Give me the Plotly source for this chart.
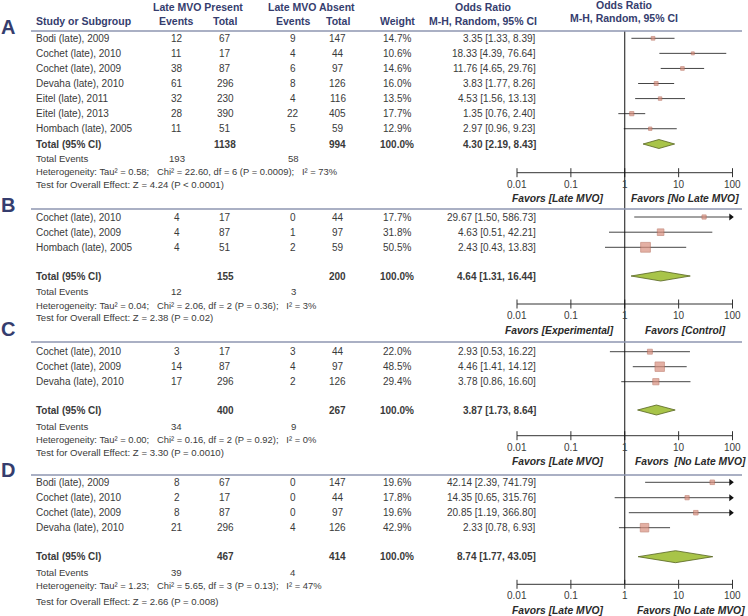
import math
import plotly.graph_objects as go

W, H = 748, 616

# ---------------- data ----------------
# Panel A
A_study = ["Bodi (late), 2009", "Cochet (late), 2010", "Cochet (late), 2009", "Devaha (late), 2010",
           "Eitel (late), 2011", "Eitel (late), 2013", "Hombach (late), 2005"]
A_ev_p = [12, 11, 38, 61, 32, 28, 11]
A_tot_p = [67, 17, 87, 296, 230, 390, 51]
A_ev_a = [9, 4, 6, 8, 4, 22, 5]
A_tot_a = [147, 44, 97, 126, 116, 405, 59]
A_weight = [14.7, 10.6, 14.6, 16.0, 13.5, 17.7, 12.9]
A_or = [3.35, 18.33, 11.76, 3.83, 4.53, 1.35, 2.97]
A_lo = [1.33, 4.39, 4.65, 1.77, 1.56, 0.76, 0.96]
A_hi = [8.39, 76.64, 29.76, 8.26, 13.13, 2.40, 9.23]
A_totals = [1138, 994]
A_events = [193, 58]
A_pooled = [4.30, 2.19, 8.43]
A_het = ["0.58", "22.60", "6", "0.0009", "73%"]
A_test = "Z = 4.24 (P < 0.0001)"
A_favors = ["Favors [Late MVO]", "Favors [No Late MVO]"]

# Panel B
B_study = ["Cochet (late), 2010", "Cochet (late), 2009", "Hombach (late), 2005"]
B_ev_p = [4, 4, 4]
B_tot_p = [17, 87, 51]
B_ev_a = [0, 1, 2]
B_tot_a = [44, 97, 59]
B_weight = [17.7, 31.8, 50.5]
B_or = [29.67, 4.63, 2.43]
B_lo = [1.50, 0.51, 0.43]
B_hi = [586.73, 42.21, 13.83]
B_totals = [155, 200]
B_events = [12, 3]
B_pooled = [4.64, 1.31, 16.44]
B_het = ["0.04", "2.06", "2", "0.36", "3%"]
B_test = "Z = 2.38 (P = 0.02)"
B_favors = ["Favors [Experimental]", "Favors [Control]"]

# Panel C
C_study = ["Cochet (late), 2010", "Cochet (late), 2009", "Devaha (late), 2010"]
C_ev_p = [3, 14, 17]
C_tot_p = [17, 87, 296]
C_ev_a = [3, 4, 2]
C_tot_a = [44, 97, 126]
C_weight = [22.0, 48.5, 29.4]
C_or = [2.93, 4.46, 3.78]
C_lo = [0.53, 1.41, 0.86]
C_hi = [16.22, 14.12, 16.60]
C_totals = [400, 267]
C_events = [34, 9]
C_pooled = [3.87, 1.73, 8.64]
C_het = ["0.00", "0.16", "2", "0.92", "0%"]
C_test = "Z = 3.30 (P = 0.0010)"
C_favors = ["Favors [Late MVO]", "Favors  [No Late MVO]"]

# Panel D
D_study = ["Bodi (late), 2009", "Cochet (late), 2010", "Cochet (late), 2009", "Devaha (late), 2010"]
D_ev_p = [8, 2, 8, 21]
D_tot_p = [67, 17, 87, 296]
D_ev_a = [0, 0, 0, 4]
D_tot_a = [147, 44, 97, 126]
D_weight = [19.6, 17.8, 19.6, 42.9]
D_or = [42.14, 14.35, 20.85, 2.33]
D_lo = [2.39, 0.65, 1.19, 0.78]
D_hi = [741.79, 315.76, 366.80, 6.93]
D_totals = [467, 414]
D_events = [39, 4]
D_pooled = [8.74, 1.77, 43.05]
D_het = ["1.23", "5.65", "3", "0.13", "47%"]
D_test = "Z = 2.66 (P = 0.008)"
D_favors = ["Favors [Late MVO]", "Favors [No Late MVO]"]

tick_vals = [0.01, 0.1, 1, 10, 100]
tick_text = ["0.01", "0.1", "1", "10", "100"]

# ---------------- layout (pixel positions) ----------------
panels = [
    dict(letter="A", study=A_study, ev_p=A_ev_p, tot_p=A_tot_p, ev_a=A_ev_a, tot_a=A_tot_a,
         w=A_weight, est=A_or, lo=A_lo, hi=A_hi, totals=A_totals, events=A_events,
         pooled=A_pooled, het=A_het, test=A_test, favors=A_favors,
         letter_y=27, line_y=31, rows=[38.3 + 15.07 * i for i in range(7)], total_y=144,
         events_y=158.3, het_y=171.3, test_y=184.3, axis_y=172.7, fav_x=[558, 685], dh=4.5),
    dict(letter="B", study=B_study, ev_p=B_ev_p, tot_p=B_tot_p, ev_a=B_ev_a, tot_a=B_tot_a,
         w=B_weight, est=B_or, lo=B_lo, hi=B_hi, totals=B_totals, events=B_events,
         pooled=B_pooled, het=B_het, test=B_test, favors=B_favors,
         letter_y=205, line_y=209, rows=[217, 232.2, 247.3], total_y=276,
         events_y=291.5, het_y=305, test_y=317.7, axis_y=304, fav_x=[559.5, 685], dh=5),
    dict(letter="C", study=C_study, ev_p=C_ev_p, tot_p=C_tot_p, ev_a=C_ev_a, tot_a=C_tot_a,
         w=C_weight, est=C_or, lo=C_lo, hi=C_hi, totals=C_totals, events=C_events,
         pooled=C_pooled, het=C_het, test=C_test, favors=C_favors,
         letter_y=329, line_y=342, rows=[351.7, 366.7, 381.7], total_y=410,
         events_y=426, het_y=439.3, test_y=452.7, axis_y=435.7, fav_x=[558, 690.5], dh=5),
    dict(letter="D", study=D_study, ev_p=D_ev_p, tot_p=D_tot_p, ev_a=D_ev_a, tot_a=D_tot_a,
         w=D_weight, est=D_or, lo=D_lo, hi=D_hi, totals=D_totals, events=D_events,
         pooled=D_pooled, het=D_het, test=D_test, favors=D_favors,
         letter_y=470, line_y=475, rows=[482.3, 497.7, 512.7, 527.7], total_y=556.7,
         events_y=572.3, het_y=585, test_y=601, axis_y=584.3, fav_x=[558, 690.5], dh=6),
]

FONT = "Liberation Sans, Arial, Helvetica, sans-serif"
TXT = "#3a3a3a"
NAVY = "#353d6e"
SEP = "#8e96b0"
SQ_FILL = "#d98f7e"
SQ_LINE = "#b56a58"
DIA_FILL = "#a8c449"
DIA_LINE = "#55631f"

# column x (pixels)
X_STUDY = 33.5
X_EVP = 176.7
X_TOTP = 225
X_EVA = 293.3
X_TOTA = 337.7
X_W = 397
X_CI = 538
X_OR1 = 483
X_FOREST = 623.5

fig = go.Figure()
ann = []
shapes = []


def text(px, y, s, anchor="center", size=10, color=TXT, bold=False):
    if bold:
        s = "<b>" + s + "</b>"
    ann.append(dict(x=px / W, xref="paper", y=y, yref="y", text=s, showarrow=False,
                    xanchor=anchor, yanchor="middle",
                    font=dict(family=FONT, size=size, color=color)))


# headers
text(X_STUDY, 21, "Study or Subgroup", "left", 10.5, NAVY, True)
text(198, 7, "Late MVO Present", "center", 10.5, NAVY, True)
text(X_EVP, 21, "Events", "center", 10.5, NAVY, True)
text(X_TOTP, 21, "Total", "center", 10.5, NAVY, True)
text(311.7, 7, "Late MVO Absent", "center", 10.5, NAVY, True)
text(X_EVA, 21, "Events", "center", 10.5, NAVY, True)
text(X_TOTA, 21, "Total", "center", 10.5, NAVY, True)
text(X_W, 21, "Weight", "center", 10.5, NAVY, True)
text(X_OR1, 7, "Odds Ratio", "center", 10.5, NAVY, True)
text(X_OR1, 21, "M-H, Random, 95% CI", "center", 10.5, NAVY, True)
text(X_FOREST, 5, "Odds Ratio", "center", 10.5, NAVY, True)
text(X_FOREST, 18, "M-H, Random, 95% CI", "center", 10.5, NAVY, True)

NB = "\u00a0"

for p in panels:
    # letter + separator
    text(8, p["letter_y"], p["letter"], "center", 20, NAVY, True)
    shapes.append(dict(type="line", xref="paper", yref="y", x0=31 / W, x1=742 / W,
                       y0=p["line_y"], y1=p["line_y"], line=dict(color=SEP, width=1.5)))
    # study rows
    lx, ly = [], []
    ax_, ay_ = [], []
    for i, name in enumerate(p["study"]):
        y = p["rows"][i]
        text(X_STUDY, y, name, "left")
        text(X_EVP, y, str(p["ev_p"][i]))
        text(X_TOTP, y, str(p["tot_p"][i]))
        text(X_EVA, y, str(p["ev_a"][i]))
        text(X_TOTA, y, str(p["tot_a"][i]))
        text(X_W, y, f"{p['w'][i]:.1f}%")
        text(X_CI, y, f"{p['est'][i]:.2f} [{p['lo'][i]:.2f}, {p['hi'][i]:.2f}]", "right")
        hi = min(p["hi"][i], tick_vals[-1])
        lo = max(p["lo"][i], tick_vals[0])
        lx += [lo, hi, None]
        ly += [y, y, None]
        if p["hi"][i] > tick_vals[-1]:
            ax_.append(tick_vals[-1] * 0.93)
            ay_.append(y)
    fig.add_trace(go.Scatter(x=lx, y=ly, mode="lines", line=dict(color="#454545", width=1),
                             hoverinfo="skip"))
    if ax_:
        fig.add_trace(go.Scatter(x=ax_, y=ay_, mode="markers",
                                 marker=dict(symbol="triangle-right", size=6, color="#111"),
                                 hoverinfo="skip"))
    fig.add_trace(go.Scatter(x=p["est"], y=p["rows"][:len(p["est"])], mode="markers",
                             marker=dict(symbol="square", color=SQ_FILL,
                                         size=[1.2 + 0.17 * w for w in p["w"]],
                                         line=dict(color=SQ_LINE, width=0.8)),
                             hoverinfo="skip"))
    # total row
    ty = p["total_y"]
    text(X_STUDY, ty, "Total (95% CI)", "left", bold=True)
    text(X_TOTP, ty, str(p["totals"][0]), bold=True)
    text(X_TOTA, ty, str(p["totals"][1]), bold=True)
    text(X_W, ty, "100.0%", bold=True)
    pe, pl, ph = p["pooled"]
    text(X_CI, ty, f"{pe:.2f} [{pl:.2f}, {ph:.2f}]", "right", bold=True)
    dh = p["dh"]
    fig.add_trace(go.Scatter(x=[pl, pe, ph, pe, pl], y=[ty, ty - dh, ty, ty + dh, ty],
                             mode="lines", fill="toself", fillcolor=DIA_FILL,
                             line=dict(color=DIA_LINE, width=0.8), hoverinfo="skip"))
    # events / heterogeneity / test
    text(X_STUDY, p["events_y"], "Total Events", "left", 9.6)
    text(X_EVP, p["events_y"], str(p["events"][0]), size=9.6)
    text(X_EVA, p["events_y"], str(p["events"][1]), size=9.6)
    tau, chi, df, pv, i2 = p["het"]
    het = (f"Heterogeneity: Tau² = {tau};{NB*3}Chi² = {chi}, df = {df} (P = {pv});"
           f"{NB*3}I² = {i2}")
    text(X_STUDY, p["het_y"], het, "left", 9.4)
    text(X_STUDY, p["test_y"], "Test for Overall Effect: " + p["test"], "left", 9.6)
    # axis
    ay = p["axis_y"]
    axx = [tick_vals[0], tick_vals[-1], None]
    axy = [ay, ay, None]
    for t in tick_vals:
        axx += [t, t, None]
        axy += [ay - 4.5, ay + 4.5, None]
    fig.add_trace(go.Scatter(x=axx, y=axy, mode="lines", line=dict(color="#333", width=1),
                             hoverinfo="skip"))
    for t, lab in zip(tick_vals, tick_text):
        ann.append(dict(x=math.log10(t), xref="x", y=ay + 11.5, yref="y", text=lab,
                        showarrow=False, xanchor="center", yanchor="middle",
                        font=dict(family=FONT, size=10, color=TXT)))
    text(p["fav_x"][0], ay + 26, "<i>" + p["favors"][0].replace("  ", NB * 2) + "</i>",
         "center", 10.3, "#2a2a2a", True)
    text(p["fav_x"][1], ay + 26, "<i>" + p["favors"][1].replace("  ", NB * 2) + "</i>",
         "center", 10.3, "#2a2a2a", True)

# line of no effect
fig.add_trace(go.Scatter(x=[1, 1], y=[31, panels[-1]["axis_y"]], mode="lines",
                         line=dict(color="#111", width=1), hoverinfo="skip"))

px0 = 517.0
dec = 53.875
xr = [-2 - px0 / dec, -2 + (W - px0) / dec]

fig.update_layout(
    width=W, height=H, margin=dict(l=0, r=0, t=0, b=0),
    paper_bgcolor="white", plot_bgcolor="white", showlegend=False,
    xaxis=dict(type="log", range=xr, visible=False, fixedrange=True),
    yaxis=dict(range=[H, 0], visible=False, fixedrange=True),
    annotations=ann, shapes=shapes,
)

fig.write_html("out.html", config={"displayModeBar": False},
               post_script="document.body.style.margin='0px';")
